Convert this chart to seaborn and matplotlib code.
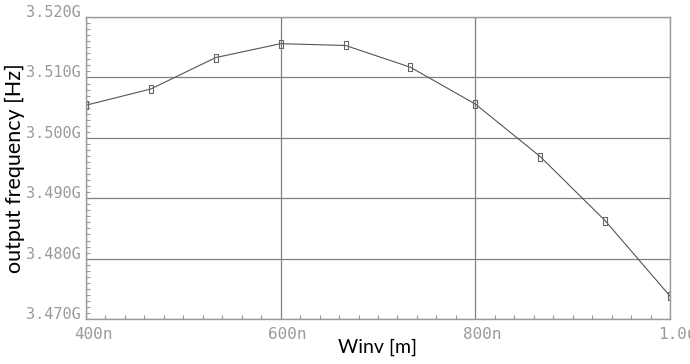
import matplotlib
matplotlib.use("Agg")
import matplotlib.pyplot as plt
import matplotlib.ticker as mticker
import matplotlib.transforms as mtransforms
import seaborn as sns
import pandas as pd
import numpy as np

# Datos (Winv en nm, frecuencia en GHz)
winv_nm = [400.0, 466.7, 533.3, 600.0, 666.7, 733.3, 800.0, 866.7, 933.3, 1000.0]
freq_ghz = [3.5054, 3.5081, 3.5133, 3.5156, 3.5153, 3.5117, 3.5056, 3.4969, 3.4863, 3.4738]

x_ticks = [400, 600, 800, 1000]
x_tick_labels = ["400n", "600n", "800n", "1.0u"]
y_ticks = [3.470, 3.480, 3.490, 3.500, 3.510, 3.520]
y_tick_labels = ["3.470G", "3.480G", "3.490G", "3.500G", "3.510G", "3.520G"]

df = pd.DataFrame({"winv": winv_nm, "freq": freq_ghz})

sns.set_style("white")
plt.rcParams['font.family'] = ['Lato', 'DejaVu Sans']

fig = plt.figure(figsize=(6.9, 3.64), dpi=100)
ax = fig.add_axes([0.1246, 0.1236, 0.971 - 0.1246, 0.953 - 0.1236])

# marcador: rectángulo estrecho
rect = [(-1, -2), (1, -2), (1, 2), (-1, 2), (-1, -2)]
sns.lineplot(data=df, x="winv", y="freq", ax=ax, color="#555555", linewidth=0.8,
             marker=rect, markersize=6, markerfacecolor="none",
             markeredgecolor="#666666", markeredgewidth=0.8)

ax.set_xlim(400, 1000)
ax.set_ylim(3.470, 3.520)

ax.set_xticks(x_ticks)
ax.set_xticklabels(x_tick_labels)
ax.set_yticks(y_ticks)
ax.set_yticklabels(y_tick_labels)
ax.xaxis.set_minor_locator(mticker.MultipleLocator(20))
ax.yaxis.set_minor_locator(mticker.MultipleLocator(0.001))

ax.grid(which="major", color="#808080", linewidth=0.9)
for s in ax.spines.values():
    s.set_color("#9a9a9a")
    s.set_linewidth(1.0)

ax.tick_params(which="both", direction="in", color="#9a9a9a", top=False, right=False)
ax.tick_params(which="major", length=0)
ax.tick_params(which="minor", length=3, width=0.8)
ax.tick_params(axis="x", which="both", bottom=True, pad=6)
ax.tick_params(axis="y", which="both", left=True, pad=4)

# etiquetas de los ejes en gris y monoespaciadas
dx = mtransforms.ScaledTranslation(0.07, 0, fig.dpi_scale_trans)
for lab in ax.get_xticklabels():
    lab.set_family("DejaVu Sans Mono")
    lab.set_fontsize(11.5)
    lab.set_color("#9a9a9a")
    lab.set_transform(lab.get_transform() + dx)
for lab in ax.get_yticklabels():
    lab.set_family("DejaVu Sans Mono")
    lab.set_fontsize(11)
    lab.set_color("#9a9a9a")
    lab.set_verticalalignment("baseline")

ax.set_xlabel("Winv [m]", fontsize=14, color="black")
ax.set_ylabel("output frequency [Hz]", fontsize=15.5, color="black")
ax.xaxis.set_label_coords(0.5, -0.066)
ax.yaxis.set_label_coords(-0.104, 0.5)

fig.savefig("out.png", dpi=100)
